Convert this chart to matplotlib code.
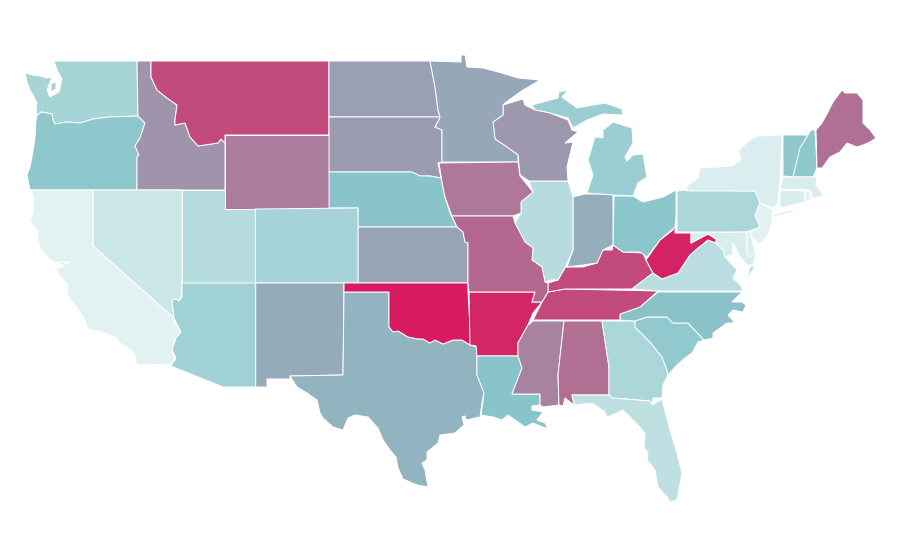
import matplotlib
matplotlib.use("Agg")
import matplotlib.pyplot as plt
from matplotlib.colors import LinearSegmentedColormap
from matplotlib.patches import Polygon

# State outlines (map units)
WA = [(54,61),(137,61),(138,116),(109,117),(93,119),(80,123),(67,122),(55,124),(53,120),(52,114),(42,112),(37,115),(36,108),(37,103),(33,95),(30,90),(27,82),(25,73),(33,75),(40,76),(47,78),(52,77),(47,90),(50,97),(59,92),(62,79),(57,70)]
WA_SOUND = [(51,84),(56,82),(56,89),(51,92)]
OR = [(37,115),(42,112),(52,114),(53,120),(55,124),(67,122),(80,123),(93,119),(109,117),(138,116),(145,123),(140,138),(135,146),(139,155),(137,157),(137,190),(30,190),(27,175),(30,167),(32,157),(34,145),(35,137),(36,120)]
ID = [(137,61),(151,61),(151,77),(157,90),(167,98),(177,105),(175,120),(175,125),(185,123),(190,137),(198,146),(218,143),(221,139),(225,143),(225,190),(137,190),(137,157),(139,155),(135,146),(140,138),(145,123),(138,116)]
MT = [(151,61),(329,61),(329,135),(225,135),(225,143),(221,139),(218,143),(198,146),(190,137),(185,123),(175,125),(175,120),(177,105),(167,98),(157,90),(151,77)]
WY = [(225,135),(329,135),(329,209),(225,209)]
ND = [(329,61),(430,61),(435,87),(438,110),(440,117),(329,117)]
SD = [(329,117),(440,117),(439,120),(435,127),(442,130),(442,162),(438,163),(441,178),(430,176),(420,176),(412,172),(329,172)]
NE = [(329,172),(412,172),(420,176),(430,176),(441,178),(445,197),(450,213),(457,227),(358,227),(358,208),(329,208)]
KS = [(358,227),(457,227),(463,232),(465,242),(468,243),(468,283),(358,283)]
CO = [(255,209),(358,208),(358,283),(255,283)]
UT = [(182,190),(225,190),(225,209),(255,209),(255,283),(182,283)]
NV = [(93,190),(182,190),(182,283),(181,297),(179,301),(176,299),(172,300),(174,318),(93,246)]
CA = [(30,190),(93,190),(93,246),(174,318),(174,322),(181,333),(175,340),(172,353),(175,357),(171,364),(137,365),(134,353),(127,347),(118,342),(117,338),(102,332),(88,329),(85,320),(82,315),(73,303),(67,295),(68,285),(59,275),(57,268),(63,267),(57,262),(70,262),(62,265),(50,260),(45,254),(40,248),(38,238),(37,230),(30,222),(33,212),(34,203),(32,190)]
AZ = [(182,283),(255.7,283),(255.7,387),(223,387),(171,366),(176,358),(172,350),(176,338),(181,332),(174,318),(172,300),(176,299),(179,301),(182,297)]
NM = [(255.7,283),(344,283),(343,375),(290,376),(290,379),(267,379),(267,387),(255.7,387)]
TX = [(344,292),(389,292),(389,327),(393,332),(398,331),(408,337),(418,339),(423,339),(430,343),(435,340),(443,344),(453,340),(462,340),(470,345),(477,347),(477,375),(484,392),(482,403),(480,417),(466,420),(465,416),(462,417),(464,425),(455,433),(440,435),(438,443),(432,448),(427,452),(427,460),(422,463),(425,470),(428,487),(417,485),(403,479),(398,468),(396,457),(390,450),(383,440),(378,428),(368,417),(355,415),(348,418),(343,430),(333,427),(323,418),(320,413),(317,400),(307,393),(297,387),(290,376),(343,375)]
OK = [(344,283),(468,283),(468,292),(471,344),(470,345),(462,340),(453,340),(443,344),(435,340),(430,343),(423,339),(418,339),(408,337),(398,331),(393,332),(389,327),(389,292),(344,292)]
AR = [(469,292),(535,292),(532,302),(542,302),(533,313),(528,325),(518,343),(518,356),(477,356),(476,346),(470,345)]
LA = [(477,356),(518,356),(522,368),(512,394),(540,394),(540,405),(532,406),(532,410),(543,412),(537,420),(545,423),(548,429),(538,425),(533,423),(525,427),(515,420),(508,415),(502,420),(493,417),(481,415),(484,393),(477,375)]
MS = [(533,321),(564,321),(558,375),(559,405),(543,407),(540,405),(540,394),(512,394),(522,368),(518,356),(518,343),(528,325)]
AL = [(564,321),(602,321),(609,367),(609,395),(572,395),(574,405),(565,398),(563,406),(559,405),(558,375)]
GA = [(602,321),(635,321),(635,327),(650,342),(662,357),(667,370),(668,375),(663,385),(662,398),(653,398),(652,405),(650,401),(612,398),(609,395),(609,367)]
FL = [(572,395),(609,395),(612,398),(650,401),(652,405),(662,399),(670,430),(677,453),(682,473),(677,500),(670,502),(667,497),(658,487),(655,470),(647,460),(648,452),(644,448),(645,433),(635,422),(623,410),(617,413),(607,417),(605,412),(592,403),(575,405)]
SC = [(635,321),(647,317),(667,317),(673,323),(688,323),(704,340),(698,342),(692,353),(685,358),(677,365),(668,375),(667,370),(662,357),(650,342),(635,327)]
NC = [(620,320),(620,314),(640,307),(658,292),(742,292),(732,302),(742,302),(746,305),(743,312),(733,310),(728,315),(735,323),(727,323),(713,333),(713,338),(704,340),(688,323),(673,323),(667,317),(647,317),(635,321)]
TN = [(533,320),(542,302),(548,292),(565,289),(658,291),(640,307),(620,314),(620,320)]
KY = [(548,292),(548,283),(558,280),(565,267),(573,267),(583,267),(597,263),(603,250),(612,250),(613,245),(623,252),(643,253),(646,260),(653,273),(632,289),(565,289)]
VA = [(632,289),(653,273),(662,279),(678,273),(690,255),(698,248),(708,240),(716,243),(723,250),(725,257),(737,270),(733,278),(742,287),(742,291),(658,291)]
VA_SHORE = [(750,266),(755,266),(747,279)]
WV = [(675,217),(675,233),(691,233),(691,243),(708,234),(716,239),(716,243),(708,240),(698,248),(690,255),(678,273),(662,279),(653,273),(646,260),(660,240),(673,230)]
OH = [(614,196),(633,196),(643,202),(663,197),(676,190),(676,217),(675,227),(660,240),(647,257),(640,252),(623,252),(613,245)]
IN = [(573,197),(585,194),(613,194),(613,245),(603,250),(597,263),(583,265),(567,267),(573,250)]
IL = [(529,181),(568,181),(573,197),(573,250),(565,268),(558,280),(551,280),(545,282),(542,267),(532,260),(533,248),(525,242),(515,223),(521,213),(521,202),(533,192)]
MI_L = [(587,193),(613,195),(633,196),(638,183),(647,177),(643,154),(633,155),(627,161),(625,157),(633,143),(632,128),(613,122),(603,130),(603,138),(595,137),(588,160),(593,175)]
MI_U = [(532,105),(558,98),(559,92),(568,90),(562,97),(577,108),(605,103),(622,109),(623,115),(603,114),(587,120),(573,128),(568,118),(550,113),(535,110)]
WI = [(503,105),(523,99),(525,105),(535,110),(550,113),(568,120),(572,130),(578,132),(565,143),(573,142),(567,167),(568,181),(529,181),(520,175),(518,155),(507,147),(495,139),(493,122),(503,115)]
MN = [(430,61),(461,62),(461,55),(465,55),(467,67),(483,68),(502,73),(518,78),(540,80),(520,92),(505,103),(503,105),(503,115),(493,122),(495,139),(507,147),(518,155),(518,162),(442,162),(442,130),(435,127),(439,120),(440,117),(438,110),(435,87)]
IA = [(439,163),(518,162),(520,176),(533,192),(521,202),(521,213),(513,216),(452,216),(445,197),(442,182)]
MO = [(452,216),(513,216),(515,223),(525,242),(533,248),(532,260),(542,267),(545,282),(548,283),(548,292),(542,302),(532,302),(535,292),(469,292),(468,283),(468,243),(465,242),(463,232),(457,227)]
PA = [(677,191),(687,190),(755,191),(760,203),(755,215),(760,227),(747,232),(677,232)]
NY = [(687,186),(698,178),(700,168),(718,167),(732,166),(741,160),(739,150),(750,140),(757,136),(782,135),(780,180),(778,203),(773,208),(760,203),(755,191),(687,191)]
NY_LI = [(773,215),(800,208),(792,212),(774,217)]
NJ = [(760,203),(773,210),(772,222),(768,235),(760,245),(752,238),(750,232),(760,227),(755,215)]
VT = [(783,135),(808,135),(800,150),(793,177),(783,176)]
NH = [(811,130),(815,130),(817,168),(813,177),(793,177),(800,148),(808,135)]
ME = [(816,130),(822,123),(828,112),(833,102),(842,90),(845,93),(857,93),(863,100),(863,123),(870,130),(876,138),(870,142),(863,145),(857,147),(847,143),(840,152),(830,157),(822,168),(817,168)]
MA = [(783,177),(817,177),(816,185),(823,195),(830,195),(813,198),(810,190),(780,189)]
CT = [(780,190),(805,191),(805,202),(780,208)]
RI = [(805,191),(810,191),(811,200),(805,202)]
MD = [(691,233),(747,232),(747,253),(756,256),(753,265),(747,265),(740,257),(733,243),(732,255),(725,257),(723,250),(716,243),(716,239),(708,234),(691,243)]
DE = [(747,232),(750,232),(752,240),(756,256),(747,256)]

STATE_NAMES = ["WA","OR","ID","MT","WY","ND","SD","NE","KS","CO","UT","NV","CA","AZ","NM","TX","OK","AR","LA","MS","AL","GA","FL","SC","NC","TN","KY","VA","WV","OH","IN","IL","MI","WI","MN","IA","MO","PA","NY","NJ","VT","NH","ME","MA","CT","RI","MD","DE"]
STATE_VALUES = [0.345,0.47,0.643,0.857,0.714,0.607,0.62,0.50,0.595,0.35,0.26,0.147,0.02,0.375,0.575,0.55,1.0,0.967,0.50,0.693,0.753,0.32,0.21,0.455,0.51,0.863,0.86,0.245,0.973,0.49,0.57,0.25,0.41,0.63,0.585,0.723,0.77,0.32,0.065,0.02,0.47,0.47,0.747,0.08,0.08,0.02,0.08,0.06]
STATE_SHAPES = {"WA":[WA,WA_SOUND],"OR":[OR],"ID":[ID],"MT":[MT],"WY":[WY],"ND":[ND],"SD":[SD],"NE":[NE],"KS":[KS],"CO":[CO],"UT":[UT],"NV":[NV],"CA":[CA],"AZ":[AZ],"NM":[NM],"TX":[TX],"OK":[OK],"AR":[AR],"LA":[LA],"MS":[MS],"AL":[AL],"GA":[GA],"FL":[FL],"SC":[SC],"NC":[NC],"TN":[TN],"KY":[KY],"VA":[VA,VA_SHORE],"WV":[WV],"OH":[OH],"IN":[IN],"IL":[IL],"MI":[MI_L,MI_U],"WI":[WI],"MN":[MN],"IA":[IA],"MO":[MO],"PA":[PA],"NY":[NY,NY_LI],"NJ":[NJ],"VT":[VT],"NH":[NH],"ME":[ME],"MA":[MA],"CT":[CT],"RI":[RI],"MD":[MD],"DE":[DE]}

cmap = LinearSegmentedColormap.from_list("teal_pink", ["#e6f4f5", "#89c5ca", "#d81b60"])

fig = plt.figure(figsize=(9, 5.6), dpi=100, facecolor="white")
ax = fig.add_axes([0, 0, 1, 1])
ax.set_xlim(0, 900)
ax.set_ylim(560, 0)
ax.axis("off")

for name, value in zip(STATE_NAMES, STATE_VALUES):
    for shape in STATE_SHAPES[name]:
        ax.add_patch(Polygon(shape, closed=True, facecolor=cmap(value),
                             edgecolor="white", linewidth=0.7, joinstyle="round"))

fig.savefig("out.png", dpi=100, facecolor="white")
